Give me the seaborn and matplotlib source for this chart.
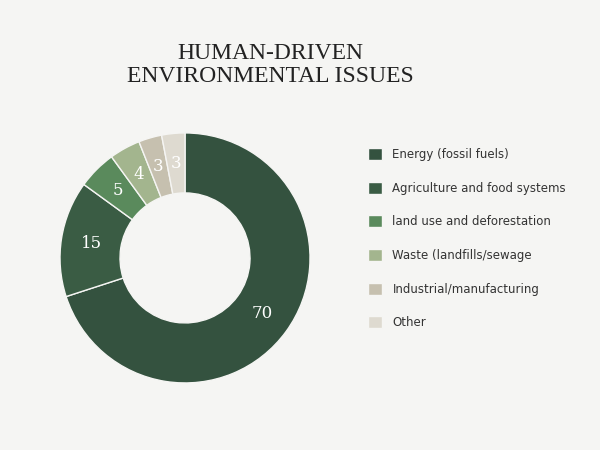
import matplotlib
matplotlib.use("Agg")
import matplotlib.pyplot as plt
import seaborn as sns

# data
categories = ["Energy (fossil fuels)", "Agriculture and food systems",
              "land use and deforestation", "Waste (landfills/sewage",
              "Industrial/manufacturing", "Other"]
values = [70, 15, 5, 4, 3, 3]
colors = ["#34523f", "#3a5c44", "#5a8a5c", "#a3b58e", "#c6c0af", "#dedad0"]

sns.set_theme(style="white")
plt.rcParams["font.family"] = ["DejaVu Sans"]
bg = "#f5f5f3"

fig = plt.figure(figsize=(6, 4.5), dpi=100, facecolor=bg)
ax = fig.add_axes([0.1, 0.149, 0.4167, 0.5556])
ax.set_facecolor(bg)

wedges, _, autotexts = ax.pie(
    values, colors=colors, startangle=90, counterclock=False,
    wedgeprops=dict(width=0.48, edgecolor=bg, linewidth=1.0),
    autopct=lambda p: f"{p:.0f}", pctdistance=0.76,
    textprops=dict(color="white", fontsize=12, family="DejaVu Serif"))
ax.set_xlim(-1, 1)
ax.set_ylim(-1, 1)
ax.set_aspect("equal")
ax.axis("off")

fig.text(0.45, 0.855, "HUMAN-DRIVEN\nENVIRONMENTAL ISSUES", ha="center", va="center",
         fontsize=17, family="Liberation Serif", color="#222222", linespacing=1.15)

fig.legend(wedges, categories, loc="upper left", bbox_to_anchor=(0.595, 0.695),
           frameon=False, fontsize=8.5, labelspacing=1.75, handlelength=1.2,
           handleheight=1.2, handletextpad=0.9, labelcolor="#333333")

fig.savefig("out.png", dpi=100, facecolor=bg)
